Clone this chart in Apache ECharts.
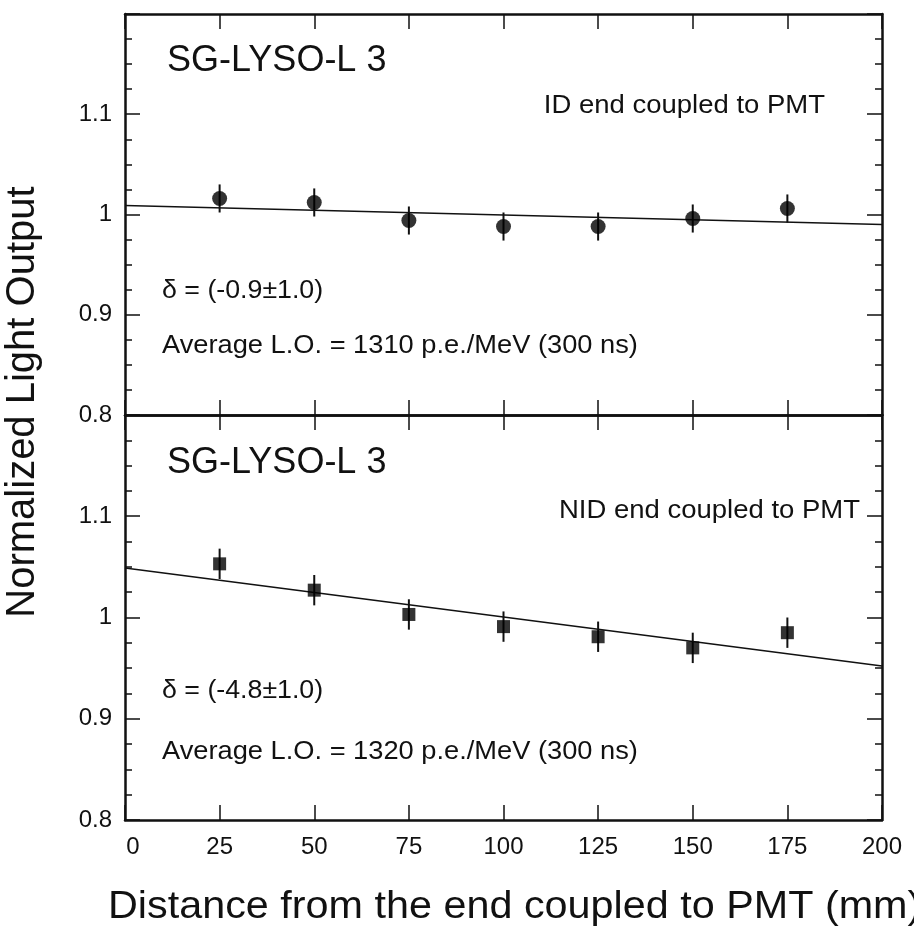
<!DOCTYPE html>
<html>
<head>
<meta charset="utf-8">
<script src="https://cdn.jsdelivr.net/npm/echarts@6/dist/echarts.min.js"></script>
<style>
  html, body { margin: 0; padding: 0; background: #fff; }
  #chart { width: 914px; height: 930px; }
</style>
</head>
<body>
<div id="chart"></div>
<script>
// distance from coupled end (mm)
const distances = [25, 50, 75, 100, 125, 150, 175]

// ID end coupled to PMT
const idValues = [1.016, 1.012, 0.994, 0.988, 0.988, 0.996, 1.006]
const idErrors = [0.014, 0.014, 0.014, 0.014, 0.014, 0.014, 0.014]
const idFit = [[0, 1.009], [200, 0.990]]

// NID end coupled to PMT
const nidValues = [1.053, 1.027, 1.003, 0.991, 0.981, 0.970, 0.985]
const nidErrors = [0.015, 0.015, 0.015, 0.015, 0.015, 0.015, 0.015]
const nidFit = [[0, 1.049], [200, 0.952]]

const yTicks = [0.8, 0.9, 1, 1.1]

const chart = echarts.init(document.getElementById('chart'))
const font = '"Liberation Sans", Arial, sans-serif'
const ink = '#111'

const xAxisBase = (gridIndex, position, showLabels) => ({
  type: 'value',
  gridIndex: gridIndex,
  position: position,
  min: 0,
  max: 200,
  interval: 25,
  axisLine: { show: true, onZero: false, lineStyle: { color: ink, width: 2.5 } },
  axisTick: { show: true, inside: true, length: 15, lineStyle: { color: ink, width: 1.5 } },
  axisLabel: {
    show: showLabels,
    color: ink,
    fontSize: 24,
    fontFamily: font,
    margin: 15,
    formatter: v => (v === 0 ? '{first|0}' : String(v)),
    rich: {
      first: { fontSize: 24, fontFamily: font, color: ink, padding: [0, 0, 0, 16] }
    }
  },
  splitLine: { show: false }
})

const yAxisBase = (gridIndex, position, showLabels) => ({
  type: 'value',
  gridIndex: gridIndex,
  position: position,
  min: 0.8,
  max: 1.2,
  interval: 0.1,
  axisLine: { show: true, onZero: false, lineStyle: { color: ink, width: 2.5 } },
  axisTick: { show: true, inside: true, length: 15, lineStyle: { color: ink, width: 1.5 } },
  minorTick: { show: true, splitNumber: 4, length: 7, lineStyle: { color: ink, width: 1.5 } },
  axisLabel: {
    show: showLabels,
    color: ink,
    fontSize: 24,
    fontFamily: font,
    margin: 13,
    formatter: v => {
      const hit = yTicks.find(t => Math.abs(t - v) < 1e-6)
      return hit === undefined ? '' : String(hit)
    }
  },
  splitLine: { show: false }
})

const errorBars = (xIdx, yIdx, values, errors) => ({
  type: 'custom',
  xAxisIndex: xIdx,
  yAxisIndex: yIdx,
  data: distances.map((d, i) => [d, values[i] - errors[i], values[i] + errors[i]]),
  renderItem: (params, api) => {
    const lo = api.coord([api.value(0), api.value(1)])
    const hi = api.coord([api.value(0), api.value(2)])
    return {
      type: 'line',
      shape: { x1: lo[0], y1: lo[1], x2: hi[0], y2: hi[1] },
      style: { stroke: ink, lineWidth: 2 }
    }
  },
  z: 3
})

// text placed by its vertical middle; sx stretches it horizontally
const textEl = (x, y, text, size, align, sx) => ({
  type: 'text',
  x: x,
  y: y,
  scaleX: sx || 1,
  style: {
    text: text,
    fill: ink,
    font: size + 'px ' + font,
    align: align || 'left',
    verticalAlign: 'middle'
  }
})

const option = {
  backgroundColor: '#fff',
  animation: false,
  grid: [
    { left: 125, right: 32, top: 14, height: 401 },
    { left: 125, right: 32, top: 415, height: 405 }
  ],
  xAxis: [
    xAxisBase(0, 'bottom', false),
    xAxisBase(0, 'top', false),
    xAxisBase(1, 'bottom', true),
    xAxisBase(1, 'top', false)
  ],
  yAxis: [
    yAxisBase(0, 'left', true),
    yAxisBase(0, 'right', false),
    yAxisBase(1, 'left', true),
    yAxisBase(1, 'right', false)
  ],
  series: [
    {
      type: 'line',
      xAxisIndex: 0,
      yAxisIndex: 0,
      data: idFit,
      symbol: 'none',
      lineStyle: { color: ink, width: 1.5 }
    },
    errorBars(0, 0, idValues, idErrors),
    {
      type: 'scatter',
      xAxisIndex: 0,
      yAxisIndex: 0,
      data: distances.map((d, i) => [d, idValues[i]]),
      symbol: 'circle',
      symbolSize: 15,
      itemStyle: { color: '#000' },
      z: 4
    },
    {
      type: 'line',
      xAxisIndex: 2,
      yAxisIndex: 2,
      data: nidFit,
      symbol: 'none',
      lineStyle: { color: ink, width: 1.5 }
    },
    errorBars(2, 2, nidValues, nidErrors),
    {
      type: 'scatter',
      xAxisIndex: 2,
      yAxisIndex: 2,
      data: distances.map((d, i) => [d, nidValues[i]]),
      symbol: 'rect',
      symbolSize: 13,
      itemStyle: { color: '#000' },
      z: 4
    }
  ],
  graphic: [
    textEl(167, 61, 'SG-LYSO-L 3', 36),
    textEl(825, 106, 'ID end coupled to PMT', 25, 'right', 1.1),
    textEl(162, 291, 'δ = (-0.9±1.0)', 25, 'left', 1.07),
    textEl(162, 346, 'Average L.O. = 1310 p.e./MeV (300 ns)', 25, 'left', 1.09),
    textEl(167, 463, 'SG-LYSO-L 3', 36),
    textEl(860, 511, 'NID end coupled to PMT', 25, 'right', 1.1),
    textEl(162, 691, 'δ = (-4.8±1.0)', 25, 'left', 1.07),
    textEl(162, 752, 'Average L.O. = 1320 p.e./MeV (300 ns)', 25, 'left', 1.09),
    textEl(108, 907, 'Distance from the end coupled to PMT (mm)', 39, 'left', 1.06),
    {
      type: 'text',
      x: 23,
      y: 402,
      rotation: Math.PI / 2,
      style: {
        text: 'Normalized Light Output',
        fill: ink,
        font: '40px ' + font,
        align: 'center',
        verticalAlign: 'middle'
      }
    }
  ]
}

chart.setOption(option)
</script>
</body>
</html>
